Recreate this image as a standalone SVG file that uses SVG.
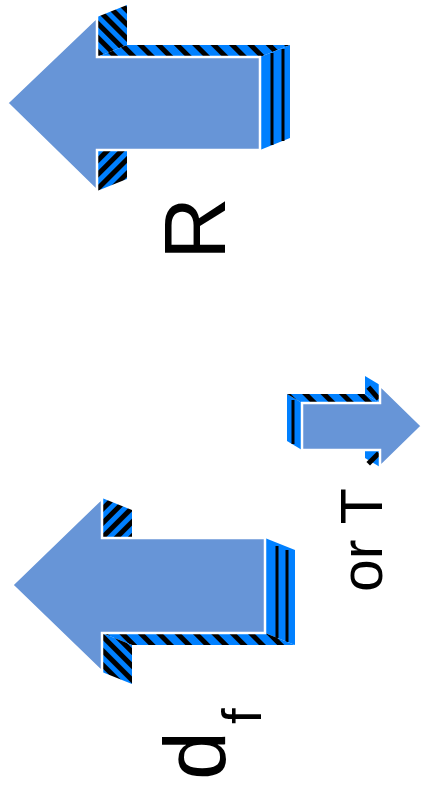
<svg xmlns="http://www.w3.org/2000/svg" width="423" height="792" viewBox="0 0 423 792">
  <style>
    .front { fill: #6795d7; stroke: #ffffff; stroke-width: 2.5; stroke-linejoin: miter; }
    .side { fill: #0080ff; }
    .rule { stroke: #000000; stroke-width: 3; fill: none; }
    .blob { stroke: #000000; stroke-width: 5; fill: none; stroke-linecap: square; }
    .label { font-family: "Liberation Sans", Arial, sans-serif; fill: #000000; }
  </style>
  <defs>
    <!-- diagonal stripes running down-right -->
    <pattern id="hatchDn" width="10" height="10" patternUnits="userSpaceOnUse" patternTransform="rotate(-45)">
      <rect width="10" height="10" fill="#0080ff"/>
      <rect width="5" height="10" fill="#000000"/>
    </pattern>
    <!-- diagonal stripes running up-right -->
    <pattern id="hatchUp" width="10" height="10" patternUnits="userSpaceOnUse" patternTransform="rotate(45)">
      <rect width="10" height="10" fill="#0080ff"/>
      <rect width="5" height="10" fill="#000000"/>
    </pattern>
    <!-- wider dashes for long edge bands -->
    <pattern id="hatchBand" width="13" height="13" patternUnits="userSpaceOnUse" patternTransform="rotate(-45)">
      <rect width="13" height="13" fill="#0080ff"/>
      <rect width="5" height="13" fill="#000000"/>
    </pattern>
  </defs>

  <!-- block arrow pointing left, depth up-right -->
  <g id="arrow-R">
    <polygon points="97,17 127,5 127,45 97,57" fill="url(#hatchDn)"/>
    <polygon points="97,57 260,57 290,45 127,45" fill="url(#hatchBand)"/>
    <polygon class="side" points="260,57 290,45 290,138 260,150"/>
    <line class="rule" x1="272" y1="53" x2="272" y2="145"/>
    <line class="rule" x1="283" y1="49" x2="283" y2="141"/>
    <polygon points="97,150 127,138 127,179 97,191" fill="url(#hatchUp)"/>
    <polygon class="front" points="7,103 97,17 97,57 260,57 260,150 97,150 97,191"/>
  </g>

  <!-- block arrow pointing left, depth down-right -->
  <g id="arrow-df">
    <polygon points="102,498 132,510 132,550 102,538" fill="url(#hatchUp)"/>
    <polygon class="side" points="265,538 295,550 295,645 265,633"/>
    <line class="rule" x1="277" y1="546" x2="277" y2="638"/>
    <line class="rule" x1="287" y1="550" x2="287" y2="642"/>
    <polygon points="102,633 265,633 295,645 132,645" fill="url(#hatchBand)"/>
    <polygon points="102,633 132,645 132,684 102,672" fill="url(#hatchDn)"/>
    <polygon class="front" points="12,585 102,498 102,538 265,538 265,633 102,633 102,672"/>
  </g>

  <!-- small block arrow pointing right, depth up-left -->
  <g id="arrow-T">
    <polygon class="side" points="302,403 287,394 287,441 302,450"/>
    <line class="rule" x1="293" y1="400" x2="293" y2="444"/>
    <polygon points="302,403 380,403 365,394 287,394" fill="url(#hatchBand)"/>
    <polygon class="side" points="380,385 365,376 365,394 380,403"/>
    <line class="blob" x1="370" y1="389" x2="377" y2="397"/>
    <polygon class="side" points="380,450 365,441 365,458 380,467"/>
    <line class="blob" x1="370" y1="462" x2="377" y2="455"/>
    <polygon class="front" points="302,403 380,403 380,385 422,426 380,467 380,450 302,450"/>
  </g>

  <!-- labels, set vertically -->
  <g id="labels">
    <text class="label" font-size="87" transform="translate(225,260) rotate(-90)">R</text>
    <text class="label" font-size="88" transform="translate(225,780) rotate(-90)">d<tspan x="56" y="36" font-size="56">f</tspan></text>
    <text class="label" font-size="59" transform="translate(382,592) rotate(-90)">or T</text>
  </g>
</svg>
